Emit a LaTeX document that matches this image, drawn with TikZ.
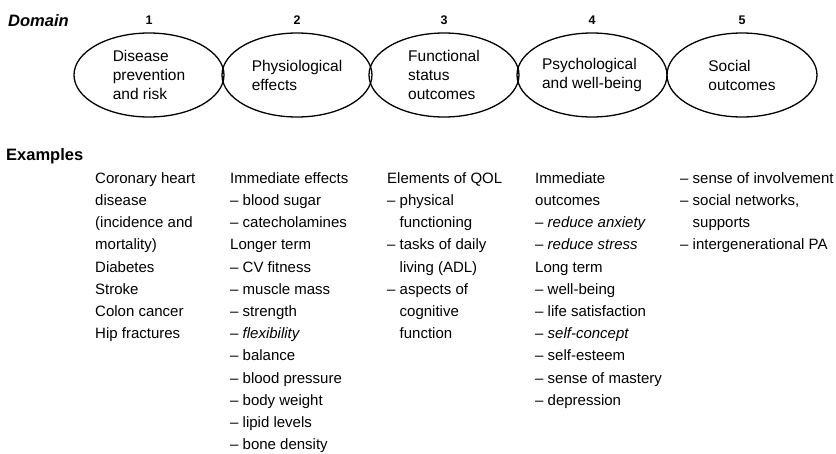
\documentclass[tikz,border=0pt]{standalone}
\usepackage{fontspec}
\setmainfont{Liberation Sans}
\usetikzlibrary{shapes.geometric}
\newcommand\itemdash{–\ }
\newcommand\itemhang{\phantom{–\ }}
\begin{document}
\begin{tikzpicture}[x=1pt,y=-1pt,
  outcome/.style={draw, ellipse, line width=1.3pt, minimum width=150pt,
    minimum height=84pt, inner sep=0pt, align=left,
    font=\fontsize{15.5}{19}\selectfont},
  dnum/.style={font=\fontsize{12.5}{14}\selectfont\bfseries, inner sep=0pt, anchor=base},
  heading/.style={font=\fontsize{16.5}{18}\selectfont\bfseries, inner sep=0pt, anchor=base west},
  column/.style={anchor=north west, inner sep=0pt, align=left,
    font=\fontsize{15}{22.2}\selectfont}]
\useasboundingbox (0,0) rectangle (836,453);

% headings
\node[heading, font=\fontsize{16.5}{18}\selectfont\bfseries\itshape] (hdomain) at (8,26) {Domain};
\node[heading] (hexamples) at (6,160) {Examples};

% the five domains
\node[outcome] (d1) at (149,75) {Disease\\prevention\\and risk};
\node[outcome] (d2) at (297,75) {Physiological\\effects};
\node[outcome] (d3) at (444,75) {Functional\\status\\outcomes};
\node[outcome] (d4) at (592,75) {Psychological\\and well-being};
\node[outcome] (d5) at (742,75) {Social\\outcomes};

\foreach \i in {1,...,5}
  \node[dnum] (n\i) at (d\i |- 0,24) {\i};

% examples, one column per domain (first baseline at y = 183)
\node[column] (c1) at (95,167.5) {\strut Coronary heart\\disease\\(incidence and\\mortality)\\Diabetes\\Stroke\\Colon cancer\\Hip fractures};
\node[column] (c2) at (230,167.5) {\strut Immediate effects\\\itemdash blood sugar\\\itemdash catecholamines\\Longer term\\\itemdash CV fitness\\\itemdash muscle mass\\\itemdash strength\\\itemdash \textit{flexibility}\\\itemdash balance\\\itemdash blood pressure\\\itemdash body weight\\\itemdash lipid levels\\\itemdash bone density};
\node[column] (c3) at (387,167.5) {\strut Elements of QOL\\\itemdash physical\\\itemhang functioning\\\itemdash tasks of daily\\\itemhang living (ADL)\\\itemdash aspects of\\\itemhang cognitive\\\itemhang function};
\node[column] (c4) at (535,167.5) {\strut Immediate\\outcomes\\\itemdash \textit{reduce anxiety}\\\itemdash \textit{reduce stress}\\Long term\\\itemdash well-being\\\itemdash life satisfaction\\\itemdash \textit{self-concept}\\\itemdash self-esteem\\\itemdash sense of mastery\\\itemdash depression};
\node[column] (c5) at (680,167.5) {\strut\itemdash sense of involvement\\\itemdash social networks,\\\itemhang supports\\\itemdash intergenerational PA};
\end{tikzpicture}
\end{document}
